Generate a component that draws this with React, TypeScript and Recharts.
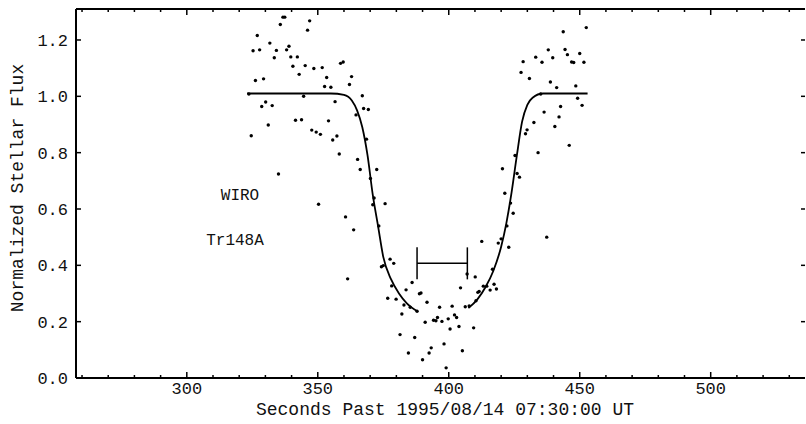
import { ComposedChart, Scatter, Line, XAxis, YAxis, ErrorBar } from 'recharts';

// Tick values
const xTicks = [260, 270, 280, 290, 300, 310, 320, 330, 340, 350, 360, 370, 380, 390, 400, 410, 420, 430, 440, 450, 460, 470, 480, 490, 500, 510, 520, 530];
const xLabelled = [300, 350, 400, 450, 500];
const yTicks = [0, 0.2, 0.4, 0.6, 0.8, 1.0, 1.2];

// Observed points: [seconds, normalized flux]
const observations: [number, number][] = [
  [323.7, 1.008], [326.9, 1.216], [325.3, 1.162], [327.8, 1.165], [326.2, 1.056], [329.3, 1.062],
  [324.6, 0.86], [328.6, 0.964], [330.1, 0.98], [332.6, 0.967], [331.1, 0.898], [335.0, 0.724],
  [331.7, 1.189], [334.2, 1.163], [333.4, 1.137], [335.7, 1.255], [336.7, 1.281], [337.4, 1.281],
  [339.0, 1.178], [338.1, 1.165], [339.7, 1.14], [342.2, 1.14], [340.5, 1.107], [342.9, 1.078],
  [345.2, 1.109], [346.9, 1.268], [346.1, 1.235], [348.5, 1.099], [351.7, 1.102], [353.4, 1.067],
  [352.6, 1.035], [355.0, 1.032], [358.7, 1.117], [359.7, 1.122], [362.1, 1.042], [362.9, 1.07],
  [356.6, 0.981], [341.5, 0.915], [343.8, 0.917], [347.7, 0.88], [349.4, 0.873], [351.0, 0.865],
  [354.1, 0.913], [355.7, 0.845], [357.3, 0.859], [358.2, 0.795], [367.0, 1.002], [367.5, 0.957],
  [369.3, 0.953], [364.6, 0.934], [368.6, 0.848], [365.2, 0.776], [366.2, 0.74], [372.5, 0.74],
  [370.1, 0.708], [371.5, 0.639], [344.6, 1.0],
  [350.3, 0.617], [360.6, 0.572], [363.7, 0.526], [361.4, 0.352], [371.0, 0.615], [375.7, 0.619],
  [373.3, 0.54], [374.3, 0.395], [375.0, 0.399], [377.6, 0.422], [379.0, 0.407], [378.2, 0.327],
  [376.7, 0.283], [379.9, 0.28], [383.7, 0.313], [386.0, 0.339], [382.9, 0.259], [382.1, 0.227],
  [385.3, 0.251], [387.9, 0.237], [388.8, 0.299], [389.4, 0.302], [391.7, 0.269], [391.0, 0.198],
  [394.2, 0.205], [395.7, 0.215], [381.4, 0.154], [387.0, 0.144], [384.6, 0.089], [390.0, 0.065],
  [392.5, 0.089], [393.3, 0.107],
  [395.1, 0.203], [396.5, 0.251], [397.4, 0.201], [399.8, 0.21], [401.3, 0.255], [402.2, 0.224],
  [403.0, 0.215], [403.9, 0.183], [400.5, 0.174], [404.5, 0.32], [406.3, 0.253], [407.8, 0.256],
  [407.0, 0.369], [409.5, 0.178], [405.2, 0.097], [398.2, 0.121], [399.0, 0.036], [410.1, 0.359],
  [411.1, 0.304], [411.6, 0.307], [410.4, 0.274], [412.6, 0.485], [413.2, 0.326], [414.5, 0.326],
  [415.8, 0.312], [417.3, 0.333], [418.2, 0.316], [416.7, 0.386], [418.9, 0.479], [420.0, 0.494],
  [422.9, 0.464], [422.2, 0.54], [421.4, 0.656], [423.6, 0.621], [424.6, 0.585], [437.4, 0.5],
  [420.5, 0.743], [425.3, 0.79], [426.1, 0.726], [427.0, 0.713], [427.6, 1.085], [428.4, 1.123],
  [430.8, 1.063], [433.2, 1.139], [435.6, 1.121], [438.0, 1.165], [439.7, 1.137], [438.8, 1.051],
  [441.2, 1.031], [443.7, 1.229], [444.4, 1.166], [445.3, 1.148], [446.9, 1.122], [447.7, 1.12],
  [448.5, 1.037], [449.2, 0.993], [442.7, 0.964], [442.1, 0.927], [440.5, 0.893], [446.0, 0.826],
  [436.4, 0.944], [432.5, 0.907], [429.9, 0.881], [429.3, 0.867], [434.1, 0.8], [435.1, 1.008],
  [452.5, 1.244], [450.0, 1.152], [451.6, 1.121], [450.9, 0.968],
];

// Model curve (ingress and egress branches)
const modelIngress: [number, number][] = [
  [323, 1.01], [340, 1.01], [355, 1.01], [360, 1.005], [363, 0.985], [365, 0.95], [367, 0.89],
  [369, 0.79], [371, 0.65], [373, 0.54], [375, 0.43], [378, 0.35], [381, 0.3], [384, 0.265], [388, 0.237],
];
const modelEgress: [number, number][] = [
  [407.5, 0.248], [411, 0.28], [414, 0.322], [417, 0.38], [420, 0.466], [422, 0.55], [424, 0.66],
  [426, 0.79], [428, 0.91], [430, 0.97], [432, 0.995], [436, 1.01], [445, 1.01], [453, 1.01],
];

// Timing bar: centre, half-width (s), flux level
const timingBar = [{ t: 397.5, f: 0.407, err: 9.6 }];

const FONT = '"Liberation Mono", "DejaVu Sans Mono", monospace';
const INK = '#111';

const obsData = observations.map(([t, f]) => ({ t, f }));
const ingressData = modelIngress.map(([t, f]) => ({ t, f }));
const egressData = modelEgress.map(([t, f]) => ({ t, f }));

function BottomTick(props: any) {
  const { x, y, payload } = props;
  const major = xLabelled.includes(payload.value);
  return (
    <g>
      <line x1={x} x2={x} y1={y} y2={y - (major ? 6 : 3)} stroke="#000" strokeWidth={1.5} />
      {major && (
        <text x={x} y={y + 16} textAnchor="middle" fontFamily={FONT} fontSize={17} fill={INK}>
          {payload.value}
        </text>
      )}
    </g>
  );
}

function TopTick(props: any) {
  const { x, y, payload } = props;
  const major = xLabelled.includes(payload.value);
  return <line x1={x} x2={x} y1={y} y2={y + (major ? 6 : 3)} stroke="#000" strokeWidth={1.5} />;
}

function LeftTick(props: any) {
  const { x, y, payload } = props;
  return (
    <g>
      <line x1={x} x2={x + 5} y1={y} y2={y} stroke="#000" strokeWidth={1.5} />
      <text x={x - 8} y={y} dy="0.35em" textAnchor="end" fontFamily={FONT} fontSize={17} fill={INK}>
        {Number(payload.value).toFixed(1)}
      </text>
    </g>
  );
}

function RightTick(props: any) {
  const { x, y } = props;
  return <line x1={x} x2={x - 4} y1={y} y2={y} stroke="#000" strokeWidth={1.5} />;
}

const Dot = (p: any) => <circle cx={p.cx} cy={p.cy} r={1.7} fill="#000" />;
const NoShape = () => <g />;

export default function App() {
  return (
    <div style={{ position: 'absolute', left: 0, top: 0, width: 806, height: 424, background: '#fff' }}>
      <ComposedChart width={806} height={424} margin={{ top: 8, right: 0, bottom: 0, left: 0 }}>
        <XAxis
          dataKey="t"
          type="number"
          domain={[257.7, 536]}
          ticks={xTicks}
          interval={0}
          height={46}
          tickSize={0}
          tickMargin={0}
          tickLine={false}
          tick={<BottomTick />}
          axisLine={{ stroke: '#000', strokeWidth: 2 }}
          allowDataOverflow
        />
        <XAxis
          xAxisId="top"
          orientation="top"
          dataKey="t"
          type="number"
          domain={[257.7, 536]}
          ticks={xTicks}
          interval={0}
          height={1}
          tickSize={0}
          tickMargin={0}
          tickLine={false}
          tick={<TopTick />}
          axisLine={{ stroke: '#000', strokeWidth: 2 }}
          allowDataOverflow
        />
        <YAxis
          type="number"
          domain={[0, 1.31]}
          ticks={yTicks}
          interval={0}
          width={76}
          tickSize={0}
          tickMargin={0}
          tickLine={false}
          tick={<LeftTick />}
          axisLine={{ stroke: '#000', strokeWidth: 2 }}
          allowDataOverflow
        />
        <YAxis
          yAxisId="right"
          orientation="right"
          type="number"
          domain={[0, 1.31]}
          ticks={yTicks}
          interval={0}
          width={1}
          tickSize={0}
          tickMargin={0}
          tickLine={false}
          tick={<RightTick />}
          axisLine={false}
          allowDataOverflow
        />
        {/* hidden series so the mirrored frame axes are drawn */}
        <Scatter data={obsData} dataKey="f" xAxisId="top" yAxisId="right" shape={NoShape} isAnimationActive={false} />
        <Scatter data={obsData} dataKey="f" shape={Dot} isAnimationActive={false} />
        <Line data={ingressData} dataKey="f" type="monotone" dot={false} stroke="#000" strokeWidth={1.8} isAnimationActive={false} />
        <Line data={egressData} dataKey="f" type="monotone" dot={false} stroke="#000" strokeWidth={1.8} isAnimationActive={false} />
        <Scatter data={timingBar} dataKey="f" shape={NoShape} isAnimationActive={false}>
          <ErrorBar dataKey="err" direction="x" width={16} stroke="#000" strokeWidth={1.5} />
        </Scatter>
      </ComposedChart>
      <svg width={806} height={424} style={{ position: 'absolute', left: 0, top: 0, pointerEvents: 'none' }}>
        <text x={445} y={415} textAnchor="middle" fontFamily={FONT} fontSize={18} fill={INK}>
          Seconds Past 1995/08/14 07:30:00 UT
        </text>
        <text transform="translate(23,188) rotate(-90)" textAnchor="middle" fontFamily={FONT} fontSize={18} fill={INK}>
          Normalized Stellar Flux
        </text>
        <text x={240} y={200} textAnchor="middle" fontFamily={FONT} fontSize={16} fill={INK}>WIRO</text>
        <text x={235} y={245} textAnchor="middle" fontFamily={FONT} fontSize={16} fill={INK}>Tr148A</text>
      </svg>
    </div>
  );
}
